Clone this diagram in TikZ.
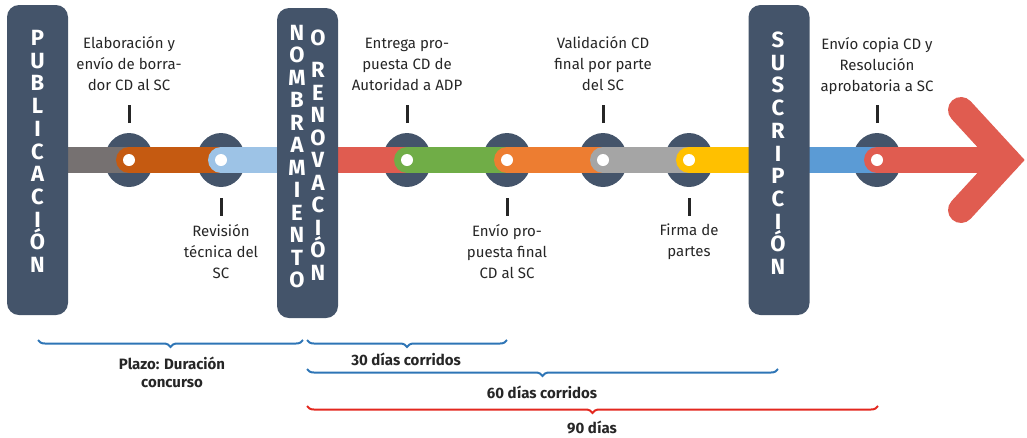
\documentclass[tikz,border=0pt]{standalone}
\usepackage{fontspec}
\setmainfont{Fira Sans}
\usetikzlibrary{shapes.geometric,decorations.pathreplacing,positioning}
\definecolor{pizarra}{RGB}{68,84,106}
\definecolor{texto}{RGB}{38,38,38}
\definecolor{grisosc}{RGB}{118,113,113}
\definecolor{naranjaosc}{RGB}{197,90,17}
\definecolor{celeste}{RGB}{157,195,230}
\definecolor{rojo}{RGB}{224,92,80}
\definecolor{verde}{RGB}{112,173,71}
\definecolor{naranja}{RGB}{237,125,49}
\definecolor{grisclaro}{RGB}{165,165,165}
\definecolor{amarillo}{RGB}{255,192,0}
\definecolor{azul}{RGB}{91,155,213}
\definecolor{azulplazo}{RGB}{46,117,182}
\definecolor{rojoplazo}{RGB}{227,40,31}
\tikzset{
	caja/.style={rectangle,rounded corners=12pt,fill=pizarra,minimum width=61pt,minimum height=310pt,inner sep=0pt},
	parada/.style={ellipse,fill=pizarra,minimum width=49pt,minimum height=54pt,inner sep=0pt},
	punto/.style={circle,fill=white,minimum size=12pt,inner sep=0pt},
	tramo/.style={line width=26pt,line cap=round},
	letra/.style={text=white,inner sep=0pt,text height=15pt,text depth=0pt},
	etiqueta/.style={align=center,text=texto,inner sep=0pt,font=\fontsize{15}{21}\selectfont},
	marca/.style={line width=3pt,draw=texto},
	plazo/.style={decorate,decoration={brace,mirror,amplitude=7pt},line width=2pt},
	plazotexto/.style={align=center,text=texto,inner sep=0pt,font=\fontsize{15}{18}\selectfont\bfseries}
}
\begin{document}
\begin{tikzpicture}[x=1pt,y=-1pt]
			\newcommand{\fuenteletra}[1]{
				\fontsize{22}{22}\selectfont\bfseries{#1}
			}%Margins of the picture
			\useasboundingbox (0,0) rectangle (1027,437);
			%Centers of the three boxes
			\coordinate (cpub) at (37.5,160);
			\coordinate (cnom) at (307.5,160);
			\coordinate (csus) at (779,160);
			%Stops on the line
			\node [parada] (stop1) at (129,160) {};
			\node [parada] (stop2) at (221,160) {};
			\node [parada] (stop3) at (407,160) {};
			\node [parada] (stop4) at (507,160) {};
			\node [parada] (stop5) at (603,160) {};
			\node [parada] (stop6) at (689,160) {};
			\node [parada] (stop7) at (877,160) {};
			%Coloured pieces of the line
			\draw [tramo,grisosc] (cpub) -- (stop1.center);
			\draw [tramo,naranjaosc] (stop1.center) -- (stop2.center);
			\draw [tramo,celeste] (stop2.center) -- (cnom);
			\draw [tramo,rojo] (cnom) -- (stop3.center);
			\draw [tramo,verde] (stop3.center) -- (stop4.center);
			\draw [tramo,naranja] (stop4.center) -- (stop5.center);
			\draw [tramo,grisclaro] (stop5.center) -- (stop6.center);
			\draw [tramo,amarillo] (stop6.center) -- (csus);
			\draw [tramo,azul] (csus) -- (stop7.center);
			%The arrow at the end
			\coordinate (punta) at (1007,160);
			\coordinate (alaA) at (961,110);
			\coordinate (alaB) at (961,210);
			\draw [tramo,rojo] (stop7.center) -- (punta);
			\draw [tramo,rojo,line join=miter] (alaA) -- (punta) -- (alaB);
			%White dots
			\foreach \i in {1,...,7} {
				\node [punto] (dot\i) at (stop\i) {};
			}
			%Boxes
			\node [caja] (pub) at (cpub) {};
			\node [caja] (nom) at ([yshift=-3pt]cnom) {};
			\node [caja] (sus) at (csus) {};
			\foreach \l [count=\i] in {P,U,B,L,I,C,A,C,I,Ó,N} {
				\node [letra] (pub\i) at (37.5,{38+22.7*(\i-1)}) {\fuenteletra{\l}};
			}
			\foreach \l [count=\i] in {N,O,M,B,R,A,M,I,E,N,T,O} {
				\node [letra] (nom\i) at (297,{33+22.45*(\i-1)}) {\fuenteletra{\l}};
			}
			\node [letra] (ren0) at (318,38) {\fuenteletra{O}};
			\foreach \l [count=\i] in {R,E,N,O,V,A,C,I,Ó,N} {
				\node [letra] (ren\i) at (318,{70+22.55*(\i-1)}) {\fuenteletra{\l}};
			}
			\foreach \l [count=\i] in {S,U,S,C,R,I,P,C,I,Ó,N} {
				\node [letra] (sus\i) at (778,{40+22.7*(\i-1)}) {\fuenteletra{\l}};
			}
			%Small lines above and below the stops
			\foreach \i in {1,3,5,7} {
				\draw [marca] ([yshift=37pt]stop\i.center) -- ([yshift=55pt]stop\i.center);
			}
			\foreach \i in {2,4,6} {
				\draw [marca] ([yshift=-38pt]stop\i.center) -- ([yshift=-56pt]stop\i.center);
			}
			%Texts of the stops
			\node [etiqueta,above=14pt] (lab1) at ([yshift=55pt]stop1.center) {Elaboración y\\envío de borra-\\dor CD al SC};
			\node [etiqueta,below=8pt] (lab2) at ([yshift=-56pt]stop2.center) {Revisión\\técnica del\\SC};
			\node [etiqueta,above=14pt] (lab3) at ([yshift=55pt]stop3.center) {Entrega pro-\\puesta CD de\\Autoridad a ADP};
			\node [etiqueta,below=8pt] (lab4) at ([yshift=-56pt]stop4.center) {Envío pro-\\puesta final\\CD al SC};
			\node [etiqueta,above=14pt] (lab5) at ([yshift=55pt]stop5.center) {Validación CD\\final por parte\\del SC};
			\node [etiqueta,below=8pt] (lab6) at ([yshift=-56pt]stop6.center) {Firma de\\partes};
			\node [etiqueta,above=10pt] (lab7) at ([yshift=55pt]stop7.center) {Envío copia CD y\\Resolución\\aprobatoria a SC};
			%Braces with the terms
			\coordinate (pz1a) at (38,340);
			\coordinate (pz1b) at (303,340);
			\coordinate (pz2a) at (307,340);
			\coordinate (pz2b) at (507,340);
			\coordinate (pz3a) at (307,369);
			\coordinate (pz3b) at (778,369);
			\coordinate (pz4a) at (307,406);
			\coordinate (pz4b) at (878,406);
			\draw [plazo,azulplazo] (pz1a) -- (pz1b);
			\draw [plazo,azulplazo] (pz2a) -- (pz2b);
			\draw [plazo,azulplazo] (pz3a) -- (pz3b);
			\draw [plazo,rojoplazo] (pz4a) -- (pz4b);
			\node [plazotexto] (txt1) at (172,372) {Plazo: Duración\\concurso};
			\node [plazotexto] (txt2) at (406,359) {30 días corridos};
			\node [plazotexto] (txt3) at (542,392) {60 días corridos};
			\node [plazotexto] (txt4) at (592,427) {90 días};
\end{tikzpicture}
\end{document}
